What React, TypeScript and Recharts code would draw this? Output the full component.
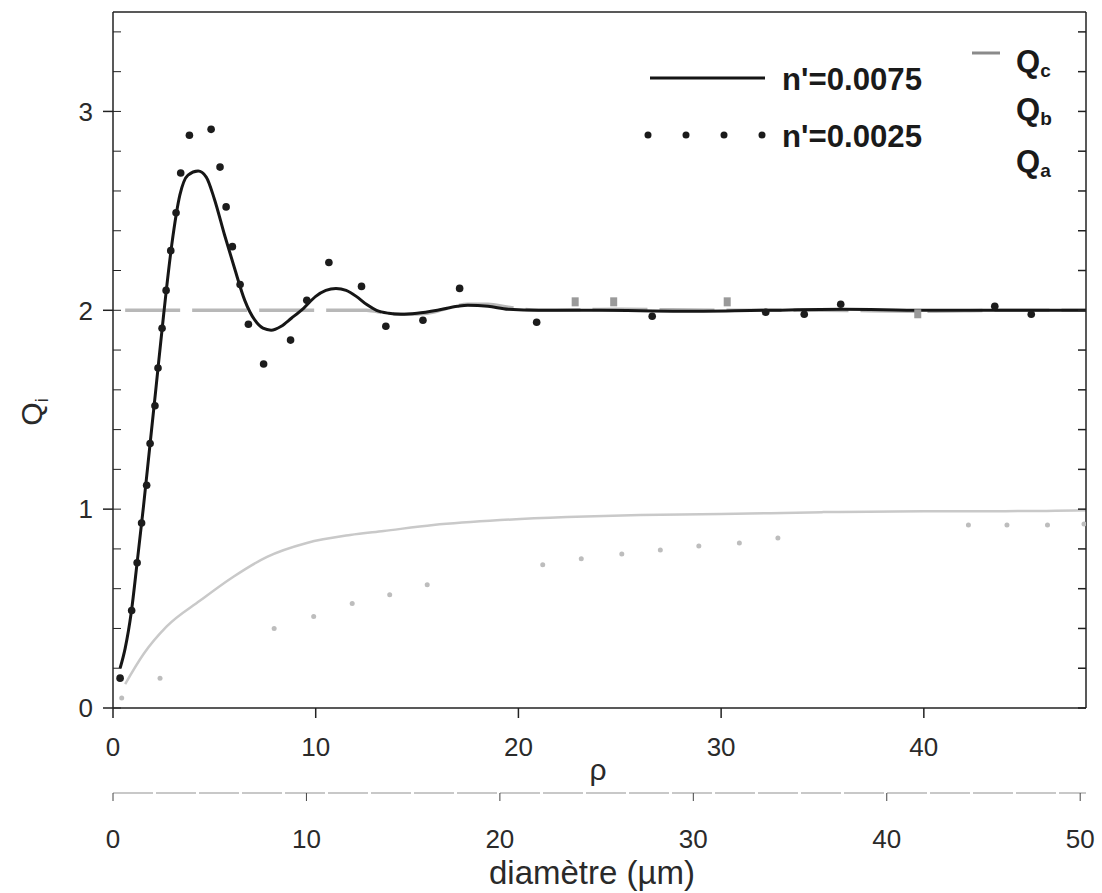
import React from 'react';
import { ComposedChart, Line, XAxis, YAxis, Customized } from 'recharts';

// Q_c, n'=0.0075 (solid black curve)
const curveRho = [0.35, 0.6, 0.9, 1.2, 1.5, 1.8, 2.1, 2.5, 2.9, 3.3, 3.7, 4.2, 4.6, 5.0, 5.5, 6.0, 6.5, 7.0, 7.4, 7.8, 8.3, 8.8, 9.4, 10.0, 10.5, 11.0, 11.5, 12.0, 12.5, 13.0, 13.6, 14.2, 15.0, 16.0, 17.0, 17.5, 18.5, 19.5, 21, 24, 28, 32, 36, 40, 44, 48];
const curveQ = [0.2, 0.3, 0.48, 0.74, 1.01, 1.3, 1.59, 1.98, 2.33, 2.58, 2.68, 2.7, 2.67, 2.56, 2.38, 2.21, 2.05, 1.95, 1.91, 1.9, 1.92, 1.96, 2.01, 2.07, 2.1, 2.11, 2.1, 2.07, 2.03, 2.0, 1.985, 1.98, 1.985, 2.0, 2.02, 2.025, 2.02, 2.005, 2.0, 2.0, 1.995, 2.0, 2.005, 2.0, 2.0, 2.0];

// Q_c, n'=0.0025 (black dots)
const dotsRho = [0.35, 0.92, 1.19, 1.41, 1.66, 1.83, 2.07, 2.22, 2.42, 2.62, 2.85, 3.11, 3.34, 3.77, 4.84, 5.28, 5.58, 5.89, 6.27, 6.68, 7.43, 8.76, 9.56, 10.65, 12.26, 13.46, 15.29, 17.1, 20.9, 26.6, 32.2, 34.1, 35.9, 43.5, 45.3];
const dotsQ = [0.15, 0.49, 0.73, 0.93, 1.12, 1.33, 1.52, 1.71, 1.91, 2.1, 2.3, 2.49, 2.69, 2.88, 2.91, 2.72, 2.52, 2.32, 2.13, 1.93, 1.73, 1.85, 2.05, 2.24, 2.12, 1.92, 1.95, 2.11, 1.94, 1.97, 1.99, 1.98, 2.03, 2.02, 1.98];

// grey curve around 2
const midRho = [0.6, 12.5, 13.5, 14.5, 15.5, 16.5, 17.5, 18.5, 19.5, 21, 25, 30, 35, 40, 44, 48];
const midQ = [2.0, 2.0, 1.985, 1.98, 1.985, 2.01, 2.03, 2.03, 2.015, 2.0, 2.005, 2.0, 2.0, 1.995, 2.0, 2.0];

// grey square markers near 2
const sqRho = [22.8, 24.7, 30.3, 39.7];
const sqQ = [2.04, 2.04, 2.04, 1.98];

// lower grey curve
const lowRho = [0.6, 1.5, 2.65, 4.3, 5.94, 7.6, 9.56, 11.7, 13.35, 15.8, 19.1, 22.4, 26, 30, 35, 40, 44, 48];
const lowQ = [0.12, 0.27, 0.41, 0.54, 0.66, 0.76, 0.83, 0.87, 0.89, 0.92, 0.945, 0.96, 0.97, 0.975, 0.985, 0.99, 0.99, 0.995];

// lower grey dots
const lowDotsRho = [0.43, 2.32, 7.95, 9.9, 11.8, 13.65, 15.5, 21.2, 23.1, 25.1, 27.0, 28.9, 30.9, 32.8, 42.2, 44.1, 46.1, 47.9];
const lowDotsQ = [0.05, 0.15, 0.4, 0.46, 0.525, 0.57, 0.62, 0.72, 0.75, 0.775, 0.795, 0.815, 0.83, 0.855, 0.92, 0.92, 0.92, 0.925];

const rhoTicks = [0, 10, 20, 30, 40];
const diamTicks = [0, 10, 20, 30, 40, 50];
const qTicks = [0, 1, 2, 3];
const qMinorTicks = [0, 0.2, 0.4, 0.6, 0.8, 1, 1.2, 1.4, 1.6, 1.8, 2, 2.2, 2.4, 2.6, 2.8, 3, 3.2, 3.4];

const pts = (r: number[], q: number[]) => r.map((x, i) => ({ rho: x, q: q[i] }));

const FONT = '"Liberation Sans", Arial, sans-serif';
const tickStyle = { fontFamily: FONT, fontSize: 26, fill: '#2a2a2a' };
const noLabel = () => <g />;

const Square = (props: any) => {
  const { cx, cy, index } = props;
  if (cx == null || cy == null) return <g key={index} />;
  return <rect key={index} x={cx - 3.5} y={cy - 5} width={7} height={9} fill="#9a9a9a" />;
};

const Decor = () => (
  <g fontFamily={FONT}>
    <line x1={650} y1={78} x2={765} y2={78} stroke="#151515" strokeWidth={3} />
    <text x={782} y={90} fontSize={32} fontWeight="bold" fill="#1a1a1a" textLength={140} lengthAdjust="spacingAndGlyphs">n'=0.0075</text>
    {[648, 686, 724, 762].map(x => (
      <circle key={x} cx={x} cy={135} r={3.5} fill="#1a1a1a" />
    ))}
    <text x={782} y={147} fontSize={32} fontWeight="bold" fill="#1a1a1a" textLength={140} lengthAdjust="spacingAndGlyphs">n'=0.0025</text>

    <line x1={972} y1={53} x2={1000} y2={53} stroke="#8a8a8a" strokeWidth={3} />
    <text x={1016} y={72} fontSize={31} fontWeight="bold" fill="#1a1a1a">Q<tspan fontSize={19} dy={5}>c</tspan></text>
    <text x={1016} y={120} fontSize={31} fontWeight="bold" fill="#1a1a1a">Q<tspan fontSize={19} dy={5}>b</tspan></text>
    <text x={1016} y={172} fontSize={31} fontWeight="bold" fill="#1a1a1a">Q<tspan fontSize={19} dy={5}>a</tspan></text>

    <text transform="translate(42,412) rotate(-90)" textAnchor="middle" fontSize={30} fill="#2a2a2a">Q<tspan fontSize={18} dy={6}>i</tspan></text>
    <text x={598} y={780} textAnchor="middle" fontSize={30} fill="#2a2a2a">ρ</text>
    <text x={592} y={884} textAnchor="middle" fontSize={33} fill="#2a2a2a">diamètre (µm)</text>
  </g>
);

export default function App() {
  const curve = pts(curveRho, curveQ);
  return (
    <div style={{ position: 'absolute', left: 0, top: 0, background: '#fff' }}>
      <ComposedChart width={1102} height={893} margin={{ top: 11, right: 16, bottom: 0, left: 0 }}>
        <XAxis
          xAxisId="a_rho"
          dataKey="rho"
          type="number"
          domain={[0, 48]}
          ticks={rhoTicks}
          allowDataOverflow
          height={85}
          stroke="#222"
          strokeWidth={1.5}
          tickSize={10}
          tickMargin={20}
          tick={tickStyle}
        />
        <XAxis
          xAxisId="b_diam"
          dataKey="rho"
          type="number"
          domain={[0, 50.3]}
          ticks={diamTicks}
          allowDataOverflow
          height={100}
          axisLine={{ stroke: '#c8c8c8', strokeWidth: 2, strokeDasharray: '40 3' }}
          tickLine={{ stroke: '#444' }}
          tickSize={8}
          tickMargin={29}
          tick={tickStyle}
        />
        <XAxis xAxisId="c_top" dataKey="rho" orientation="top" type="number" domain={[0, 48]} ticks={rhoTicks} allowDataOverflow height={1} tick={false} tickSize={0} stroke="#222" strokeWidth={1.5} />
        <YAxis
          yAxisId="q"
          type="number"
          domain={[0, 3.5]}
          ticks={qTicks}
          allowDataOverflow
          width={113}
          stroke="#222"
          strokeWidth={1.5}
          tickSize={10}
          tickMargin={10}
          tick={tickStyle}
        />
        <YAxis yAxisId="minor" type="number" domain={[0, 3.5]} ticks={qMinorTicks} allowDataOverflow mirror width={1} tick={noLabel} axisLine={false} tickSize={8} tickLine={{ stroke: '#222' }} />
        <YAxis yAxisId="right" orientation="right" type="number" domain={[0, 3.5]} ticks={qMinorTicks} allowDataOverflow mirror width={1} tick={noLabel} tickSize={8} stroke="#222" strokeWidth={1.5} />

        {/* invisible series so the extra axes are drawn */}
        <Line xAxisId="b_diam" yAxisId="minor" data={curve} dataKey="q" stroke="none" dot={false} activeDot={false} isAnimationActive={false} />
        <Line xAxisId="c_top" yAxisId="right" data={curve} dataKey="q" stroke="none" dot={false} activeDot={false} isAnimationActive={false} />

        <Line xAxisId="a_rho" yAxisId="q" data={pts(lowRho, lowQ)} dataKey="q" type="monotone" stroke="#c9c9c9" strokeWidth={2.5} dot={false} activeDot={false} isAnimationActive={false} />
        <Line xAxisId="a_rho" yAxisId="q" data={pts(lowDotsRho, lowDotsQ)} dataKey="q" stroke="none" dot={{ r: 2.5, fill: '#bdbdbd', stroke: 'none' }} activeDot={false} isAnimationActive={false} />
        <Line xAxisId="a_rho" yAxisId="q" data={pts(midRho, midQ)} dataKey="q" type="monotone" stroke="#b8b8b8" strokeWidth={3.5} strokeDasharray="55 12" dot={false} activeDot={false} isAnimationActive={false} />
        <Line xAxisId="a_rho" yAxisId="q" data={pts(sqRho, sqQ)} dataKey="q" stroke="none" dot={<Square />} activeDot={false} isAnimationActive={false} />
        <Line xAxisId="a_rho" yAxisId="q" data={curve} dataKey="q" type="monotone" stroke="#161616" strokeWidth={3} dot={false} activeDot={false} isAnimationActive={false} />
        <Line xAxisId="a_rho" yAxisId="q" data={pts(dotsRho, dotsQ)} dataKey="q" stroke="none" dot={{ r: 3.8, fill: '#1c1c1c', stroke: 'none' }} activeDot={false} isAnimationActive={false} />

        <Customized component={Decor} />
      </ComposedChart>
    </div>
  );
}
